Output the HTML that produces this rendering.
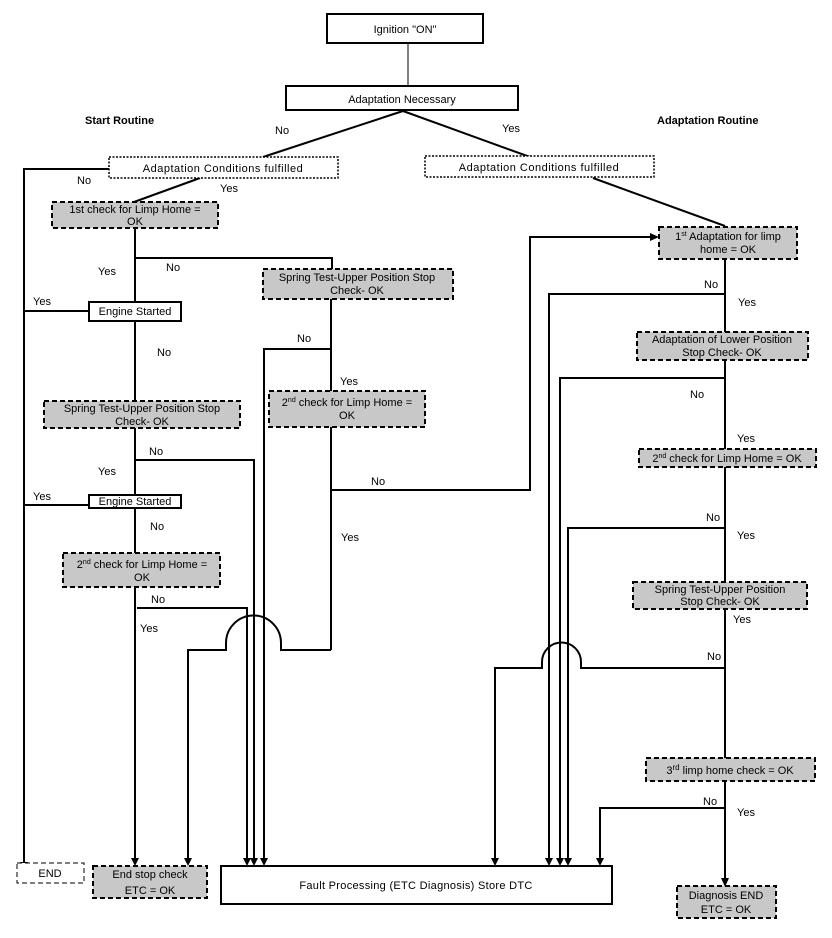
<!DOCTYPE html>
<html><head><meta charset="utf-8"><style>
html,body{margin:0;padding:0;background:#fff}
svg{display:block}
text{font-family:"Liberation Sans",Arial,sans-serif;font-size:11px;fill:#000}
</style></head><body>
<svg width="832" height="938" viewBox="0 0 832 938" xmlns="http://www.w3.org/2000/svg">
<defs>
<marker id="a" markerWidth="8" markerHeight="8" refX="4" refY="7" orient="auto" markerUnits="userSpaceOnUse">
<path d="M0,0 L8,0 L4,8 Z" fill="#000" transform="rotate(-90 4 4)"/>
</marker>
</defs>
<g fill="none" stroke="#000" stroke-width="2">
<!-- top -->
<line x1="408" y1="43" x2="408" y2="86" stroke-width="1"/>
<line x1="403" y1="111" x2="263" y2="157"/>
<line x1="403" y1="111" x2="530" y2="157"/>
<!-- left no to END -->
<polyline points="109,169 24,169 24,862"/>
<line x1="200" y1="178" x2="134" y2="202"/>
<line x1="135" y1="228" x2="135" y2="302"/>
<polyline points="135,258 332,258 332,269"/>
<line x1="89" y1="311" x2="24" y2="311"/>
<line x1="135" y1="321" x2="135" y2="401"/>
<line x1="135" y1="428" x2="135" y2="495"/>
<polyline points="135,460 254,460 254,862"/>
<line x1="89" y1="505" x2="24" y2="505"/>
<line x1="135" y1="508" x2="135" y2="553"/>
<line x1="135" y1="587" x2="135" y2="862"/>
<polyline points="137,608 247,608 247,862"/>
<!-- right column of start routine -->
<line x1="331" y1="299" x2="331" y2="391"/>
<polyline points="331,349 264,349 264,862"/>
<line x1="331" y1="427" x2="331" y2="650"/>
<polyline points="331,490 530,490 530,237 652,237"/>
<path d="M331,650 L281,650 L281,643 A27,27 0 0 0 226,643 L226,650 L188,650 L188,862"/>
<!-- adaptation routine -->
<line x1="593" y1="178" x2="725" y2="226"/>
<line x1="725" y1="259" x2="725" y2="332"/>
<polyline points="725,294 549,294 549,862"/>
<line x1="725" y1="360" x2="725" y2="449"/>
<polyline points="725,378 560,378 560,862"/>
<line x1="725" y1="467" x2="725" y2="582"/>
<polyline points="725,528 568,528 568,862"/>
<line x1="725" y1="609" x2="725" y2="758"/>
<path d="M725,668 L581,668 L581,662 A19.5,19.5 0 0 0 542,662 L542,668 L495,668 L495,862"/>
<line x1="725" y1="781" x2="725" y2="880"/>
<polyline points="725,808 600,808 600,862"/>
</g>
<!-- arrowheads -->
<g fill="#000">
<path d="M20,862 L28,862 L24,870 Z"/>
<path d="M131,858 L139,858 L135,866 Z"/>
<path d="M184,858 L192,858 L188,866 Z"/>
<path d="M243,858 L251,858 L247,866 Z"/>
<path d="M250,858 L258,858 L254,866 Z"/>
<path d="M260,858 L268,858 L264,866 Z"/>
<path d="M491,858 L499,858 L495,866 Z"/>
<path d="M545,858 L553,858 L549,866 Z"/>
<path d="M556,858 L564,858 L560,866 Z"/>
<path d="M564,858 L572,858 L568,866 Z"/>
<path d="M596,858 L604,858 L600,866 Z"/>
<path d="M721,878 L729,878 L725,887 Z"/>
<path d="M650,233 L650,241 L659,237 Z"/>
</g>
<!-- boxes -->
<g stroke="#000" stroke-width="2">
<rect x="327" y="14" width="156" height="29" fill="#fff"/>
<rect x="286" y="86" width="232" height="24" fill="#fff"/>
<rect x="109" y="157" width="229" height="21" fill="#fff" stroke-dasharray="2,1.5" stroke-width="1.5"/>
<rect x="425" y="156" width="229" height="21" fill="#fff" stroke-dasharray="2,1.5" stroke-width="1.5"/>
<g fill="#c8c8c8" stroke-dasharray="5,3">
<rect x="52" y="202" width="166" height="26"/>
<rect x="263" y="269" width="190" height="30"/>
<rect x="44" y="401" width="196" height="27"/>
<rect x="63" y="553" width="157" height="34"/>
<rect x="269" y="391" width="156" height="36"/>
<rect x="93" y="866" width="114" height="32"/>
<rect x="659" y="227" width="138" height="32"/>
<rect x="637" y="332" width="171" height="28"/>
<rect x="639" y="449" width="177" height="18"/>
<rect x="633" y="582" width="174" height="27"/>
<rect x="646" y="758" width="169" height="23"/>
<rect x="677" y="886" width="99" height="32"/>
</g>
<rect x="89" y="302" width="92" height="19" fill="#fff"/>
<rect x="89" y="495" width="92" height="13" fill="#fff"/>
<rect x="17" y="863" width="67" height="20" fill="#fff" stroke-dasharray="5,3" stroke-width="1"/>
<rect x="221" y="866" width="391" height="38" fill="#fff"/>
</g>
<!-- text -->
<g text-anchor="middle">
<text x="405" y="33" font-size="12">Ignition "ON"</text>
<text x="402" y="103" font-size="12">Adaptation Necessary</text>
<text x="223" y="172" font-size="12" letter-spacing="0.5">Adaptation Conditions  fulfilled</text>
<text x="539" y="171" font-size="12" letter-spacing="0.5">Adaptation Conditions  fulfilled</text>
<text x="135" y="213" font-size="10">1st check for Limp Home =</text>
<text x="135" y="225" font-size="10">OK</text>
<text x="357" y="281" font-size="10.5">Spring Test-Upper Position Stop</text>
<text x="357" y="294" font-size="10.5">Check- OK</text>
<text x="135" y="311" font-size="10.5" dy="4">Engine Started</text>
<text x="135" y="505" font-size="10.5">Engine Started</text>
<text x="142" y="412" font-size="10.5">Spring Test-Upper Position Stop</text>
<text x="142" y="425" font-size="10.5">Check- OK</text>
<text x="142" y="568" font-size="10.5">2<tspan font-size="7" dy="-4">nd</tspan><tspan dy="4"> check for Limp Home =</tspan></text>
<text x="142" y="581" font-size="10.5">OK</text>
<text x="347" y="406" font-size="10.5">2<tspan font-size="7" dy="-4">nd</tspan><tspan dy="4"> check for Limp Home =</tspan></text>
<text x="347" y="419" font-size="10.5">OK</text>
<text x="50" y="877" font-size="12">END</text>
<text x="150" y="878" font-size="12">End stop check</text>
<text x="150" y="894" font-size="12">ETC = OK</text>
<text x="416" y="889" font-size="12" letter-spacing="0.3">Fault Processing  (ETC Diagnosis) Store DTC</text>
<text x="728" y="240" font-size="10.5">1<tspan font-size="7" dy="-4">st</tspan><tspan dy="4"> Adaptation for limp</tspan></text>
<text x="728" y="253" font-size="10.5">home = OK</text>
<text x="722" y="343" font-size="10.5">Adaptation of Lower Position</text>
<text x="722" y="356" font-size="10.5">Stop Check- OK</text>
<text x="727" y="462" font-size="10.5">2<tspan font-size="7" dy="-4">nd</tspan><tspan dy="4"> check for Limp Home = OK</tspan></text>
<text x="720" y="593" font-size="10.5">Spring Test-Upper Position</text>
<text x="720" y="605" font-size="10.5">Stop Check- OK</text>
<text x="730" y="774" font-size="12">3<tspan font-size="8" dy="-4">rd</tspan><tspan dy="4"> limp home check = OK</tspan></text>
<text x="726" y="899" font-size="10.5">Diagnosis END</text>
<text x="726" y="913" font-size="10.5">ETC = OK</text>
</g>
<text x="85" y="124" font-size="13" font-weight="bold">Start Routine</text>
<text x="657" y="124" font-size="13" font-weight="bold">Adaptation Routine</text>
<g font-size="12">
<text x="275" y="134" font-size="9">No</text>
<text x="502" y="132" font-size="9">Yes</text>
<text x="77" y="184">No</text>
<text x="220" y="192">Yes</text>
<text x="166" y="271">No</text>
<text x="98" y="275">Yes</text>
<text x="33" y="305">Yes</text>
<text x="157" y="356">No</text>
<text x="149" y="455">No</text>
<text x="98" y="475">Yes</text>
<text x="33" y="500">Yes</text>
<text x="150" y="530">No</text>
<text x="151" y="603">No</text>
<text x="140" y="632">Yes</text>
<text x="297" y="342">No</text>
<text x="340" y="385">Yes</text>
<text x="371" y="485">No</text>
<text x="341" y="541">Yes</text>
<text x="704" y="288">No</text>
<text x="738" y="306">Yes</text>
<text x="690" y="398">No</text>
<text x="737" y="442">Yes</text>
<text x="706" y="521">No</text>
<text x="737" y="539">Yes</text>
<text x="733" y="623">Yes</text>
<text x="707" y="660">No</text>
<text x="703" y="805">No</text>
<text x="737" y="816">Yes</text>
</g>
</svg>
</body></html>
